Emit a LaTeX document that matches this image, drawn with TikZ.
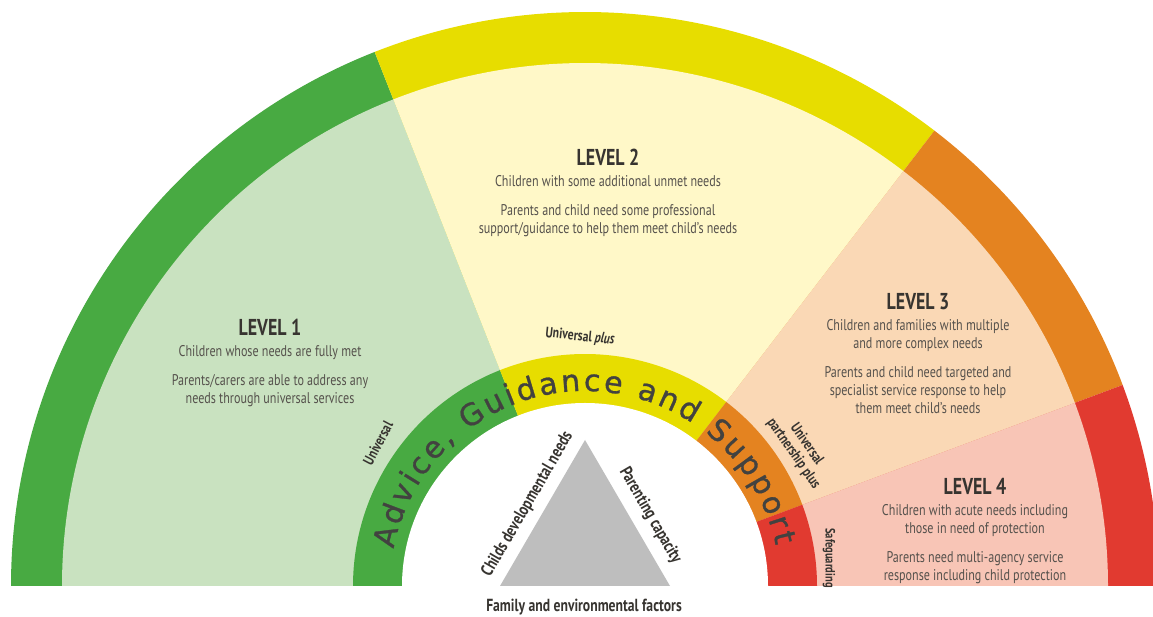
\documentclass[tikz,border=0pt]{standalone}
\usepackage{fontspec}
\setmainfont{PT Sans}[FakeStretch=0.78]
\newfontfamily\agsfamily{DejaVu Sans}[FakeBold=1]
\usepackage{tikz}
\usetikzlibrary{calc,decorations.text}
\definecolor{lvgreen}{RGB}{72,170,66}
\definecolor{lvgreenlt}{RGB}{201,226,192}
\definecolor{lvyellow}{RGB}{231,221,0}
\definecolor{lvyellowlt}{RGB}{255,248,200}
\definecolor{lvorange}{RGB}{228,131,32}
\definecolor{lvorangelt}{RGB}{250,216,181}
\definecolor{lvred}{RGB}{225,58,48}
\definecolor{lvredlt}{RGB}{248,197,182}
\definecolor{trigray}{RGB}{190,190,190}
\definecolor{bodygray}{RGB}{85,81,76}
\definecolor{headgray}{RGB}{55,52,48}
\definecolor{agsgray}{RGB}{66,66,64}
\newcommand{\agsfont}{\agsfamily\fontsize{30}{32}\selectfont}

\begin{document}
\begin{tikzpicture}[x=1pt,y=1pt,
	lvtext/.style={align=center, inner sep=0pt, anchor=north, text=bodygray, font=\fontsize{15.5}{18}\selectfont},
	tag/.style={inner sep=0pt, text=headgray, font=\bfseries\fontsize{15}{16}\selectfont}]
	
	\useasboundingbox (0,0) rectangle (1153,617);
	\clip (0,0) rectangle (1153,617);
	\coordinate (O) at (585,31);
	
	% outer band
	\fill[lvgreen] (O) -- ++(180:574) arc[start angle=180, end angle=111.5, radius=574] -- cycle;
	\fill[lvyellow] (O) -- ++(111.5:574) arc[start angle=111.5, end angle=52.5, radius=574] -- cycle;
	\fill[lvorange] (O) -- ++(52.5:574) arc[start angle=52.5, end angle=20.5, radius=574] -- cycle;
	\fill[lvred] (O) -- ++(20.5:574) arc[start angle=20.5, end angle=0, radius=574] -- cycle;
	
	% level areas
	\fill[lvgreenlt] (O) -- ++(180:523) arc[start angle=180, end angle=111.5, radius=523] -- cycle;
	\fill[lvyellowlt] (O) -- ++(111.5:523) arc[start angle=111.5, end angle=52.5, radius=523] -- cycle;
	\fill[lvorangelt] (O) -- ++(52.5:523) arc[start angle=52.5, end angle=20.5, radius=523] -- cycle;
	\fill[lvredlt] (O) -- ++(20.5:523) arc[start angle=20.5, end angle=0, radius=523] -- cycle;
	
	% inner ring
	\fill[lvgreen] (O) -- ++(180:232) arc[start angle=180, end angle=111.5, radius=232] -- cycle;
	\fill[lvyellow] (O) -- ++(111.5:232) arc[start angle=111.5, end angle=52.5, radius=232] -- cycle;
	\fill[lvorange] (O) -- ++(52.5:232) arc[start angle=52.5, end angle=20.5, radius=232] -- cycle;
	\fill[lvred] (O) -- ++(20.5:232) arc[start angle=20.5, end angle=0, radius=232] -- cycle;
	\fill[white] (O) -- ++(180:183) arc[start angle=180, end angle=0, radius=183] -- cycle;
	
	\path[decorate, decoration={text along path, text align=fit to path, text color=agsgray,
		text={|\agsfont|Advice, Guidance and Support}}]
		(O) ++(169:195) arc[start angle=169, end angle=12, radius=195];
	
	% triangle
	\coordinate (TL) at (500,31);
	\coordinate (TR) at (670,31);
	\coordinate (TT) at (585,177);
	\fill[trigray] (TL) -- (TT) -- (TR) -- cycle;
	
	\path (TL) -- (TT) node[tag, midway, sloped, above=9pt, font=\bfseries\fontsize{17.5}{19}\selectfont] (cdn) {Childs developmental needs};
	\path (TT) -- (TR) node[tag, pos=0.58, sloped, above=10pt, font=\bfseries\fontsize{17.5}{19}\selectfont] (pcap) {Parenting capacity};
	\node[tag, font=\bfseries\fontsize{17.5}{19}\selectfont] (fef) at (584,10) {Family and environmental factors};
	
	% ring labels
	\node[tag, rotate=62] (uni) at (378,174) {Universal};
	\node[tag, rotate=-6] (unip) at (580,280) {Universal \textit{plus}};
	\node[tag, rotate=-55, align=center] (upp) at (800,168) {Universal\\partnership plus};
	\node[tag, rotate=-90, font=\bfseries\fontsize{13.5}{15}\selectfont] (safe) at (829,59) {Safeguarding};
	
	% levels
	\node[lvtext] (lv1) at (270,298) {{\bfseries\fontsize{23}{24}\selectfont\color{headgray}LEVEL 1}\\[3pt]
		Children whose needs are fully met\\[11pt]
		Parents/carers are able to address any\\needs through universal services};
	\node[lvtext] (lv2) at (608,468) {{\bfseries\fontsize{23}{24}\selectfont\color{headgray}LEVEL 2}\\[3pt]
		Children with some additional unmet needs\\[11pt]
		Parents and child need some professional\\support/guidance to help them meet child's needs};
	\node[lvtext] (lv3) at (918,324) {{\bfseries\fontsize{23}{24}\selectfont\color{headgray}LEVEL 3}\\[3pt]
		Children and families with multiple\\and more complex needs\\[11pt]
		Parents and child need targeted and\\specialist service response to help\\them meet child's needs};
	\node[lvtext] (lv4) at (975,139) {{\bfseries\fontsize{23}{24}\selectfont\color{headgray}LEVEL 4}\\[3pt]
		Children with acute needs including\\those in need of protection\\[11pt]
		Parents need multi-agency service\\response including child protection};
\end{tikzpicture}
\end{document}
